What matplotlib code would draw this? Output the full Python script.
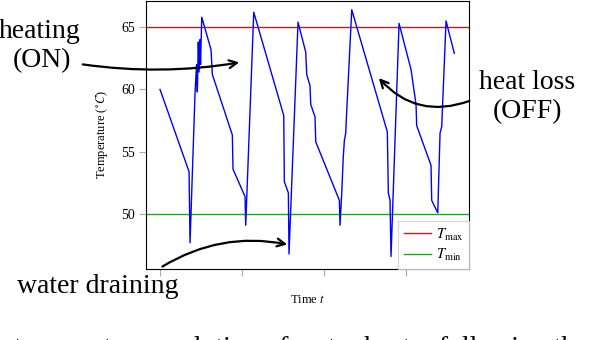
import matplotlib
matplotlib.use('Agg')
import matplotlib.pyplot as plt

plt.rcParams['font.family'] = ['Liberation Serif', 'DejaVu Serif']
plt.rcParams['mathtext.fontset'] = 'stix'

# water temperature over time
t = [0, 3.54, 3.66, 4.27, 4.45, 4.55, 4.67, 4.76, 4.88, 4.94, 5.09,
     6.22, 6.38, 8.82, 8.90, 10.37, 10.45, 11.43, 15.09, 15.16, 15.65,
     15.73, 16.83, 17.77, 17.89, 18.29, 18.38, 18.90, 18.99, 21.87, 21.95,
     22.16, 22.35, 22.48, 22.65, 22.72, 23.38, 27.72, 27.84, 28.05, 28.17,
     29.15, 30.61, 31.22, 31.30, 33.05, 33.13, 33.87, 34.15, 34.35, 34.88,
     35.89]
temp = [60.0, 53.4, 47.7, 59.7, 62.0, 59.8, 63.8, 61.4, 64.0, 62.0, 65.8,
        63.2, 61.2, 56.35, 53.6, 51.4, 49.1, 66.2, 57.9, 52.6, 51.7,
        46.8, 65.4, 63.0, 61.2, 60.3, 58.8, 57.8, 55.8, 51.1, 49.1,
        51.7, 54.6, 55.9, 56.5, 57.6, 66.4, 56.6, 51.7, 51.1, 46.6,
        65.3, 61.6, 58.8, 57.1, 53.9, 51.1, 50.1, 56.5, 57.0, 65.5,
        62.9]

t_max = 65
t_min = 50
x_ticks = [0, 10, 20, 30]
y_ticks = [50, 55, 60, 65]

fig = plt.figure(figsize=(5.98, 3.4), dpi=100)
ax = fig.add_axes([146 / 598, 71 / 340, 323 / 598, 268 / 340])

ax.axhline(t_max, color='#ff0000', lw=1.0, label=r'$T_{\mathrm{max}}$')
ax.axhline(t_min, color='#339933', lw=1.0, label=r'$T_{\mathrm{min}}$')
ax.plot(t, temp, color='#0000ff', lw=1.0)

ax.set_xlim(-1.71, 37.68)
ax.set_ylim(45.59, 67.1)
ax.set_xticks(x_ticks)
ax.set_xticklabels([])
ax.set_yticks(y_ticks)
ax.tick_params(direction='out', length=5, width=0.8, color='#aaaaaa',
               labelsize=10, pad=3)
for s in ax.spines.values():
    s.set_linewidth(0.8)

ax.set_xlabel('Time $t$', fontsize=9, labelpad=10)
ax.set_ylabel(r'Temperature ($^{\circ}C$)', fontsize=9, labelpad=8)

leg = ax.legend(loc='lower right', fontsize=10.5, frameon=True, fancybox=False,
                borderaxespad=0, handlelength=1.9, handletextpad=0.3,
                borderpad=0.4, labelspacing=0.3)
leg.get_frame().set_edgecolor('#cccccc')
leg.get_frame().set_linewidth(0.8)

# annotations (figure pixels, origin bottom-left)
big = 20
fig.text(40, 302, 'heating', transform=None, fontsize=big,
         ha='center', va='baseline')
fig.text(42, 273, '(ON)', transform=None, fontsize=big,
         ha='center', va='baseline')
fig.text(527, 251, 'heat loss', transform=None, fontsize=big,
         ha='center', va='baseline')
fig.text(528, 222, '(OFF)', transform=None, fontsize=big,
         ha='center', va='baseline')
fig.text(17, 47, 'water draining', transform=None, fontsize=big,
         ha='left', va='baseline')
# caption line cut off by the bottom edge, as in the reference
fig.text(14, -15, 'temperature evolution of water heater following the sim',
         transform=None, fontsize=big, ha='left', va='baseline')

arrow = dict(arrowstyle='->', lw=1.6, color='black', mutation_scale=14)
ax.annotate('', xy=(242, 278), xycoords='figure pixels',
            xytext=(80, 276), textcoords='figure pixels',
            arrowprops=dict(arrow, connectionstyle='arc3,rad=0.08'),
            annotation_clip=False)
ax.annotate('', xy=(377, 264), xycoords='figure pixels',
            xytext=(472, 240), textcoords='figure pixels',
            arrowprops=dict(arrow, connectionstyle='arc3,rad=-0.35'),
            annotation_clip=False)
ax.annotate('', xy=(290, 95), xycoords='figure pixels',
            xytext=(160, 72), textcoords='figure pixels',
            arrowprops=dict(arrow, connectionstyle='arc3,rad=-0.2'),
            annotation_clip=False)

fig.savefig('out.png', dpi=100)
